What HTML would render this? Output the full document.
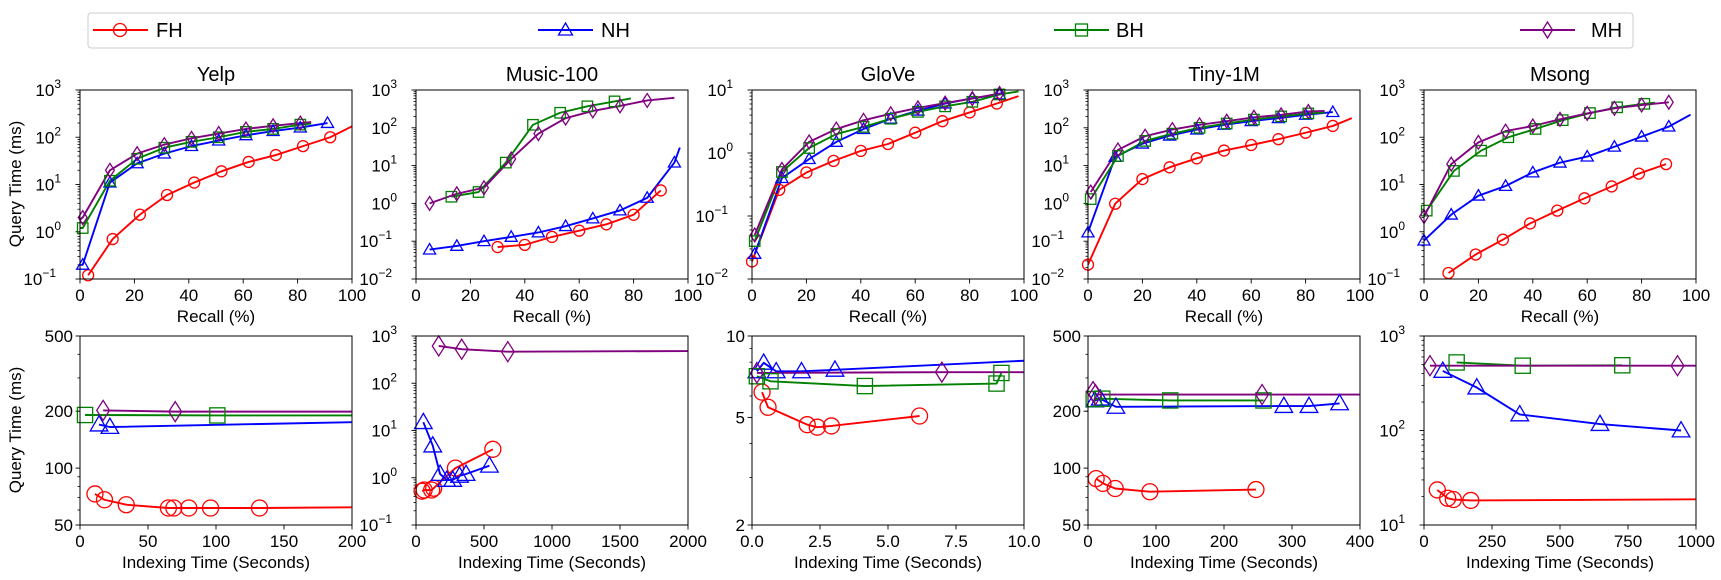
<!DOCTYPE html>
<html><head><meta charset="utf-8"><style>
html,body{margin:0;padding:0;background:#fff;}
svg{display:block;font-family:"Liberation Sans","DejaVu Sans",sans-serif;}
</style></head><body>
<svg id="fig" width="1721" height="580" viewBox="0 0 1721 580" xmlns="http://www.w3.org/2000/svg">
<g>
<rect x="88" y="13" width="1545" height="35" rx="3" fill="#fff" stroke="#ccc" stroke-width="1"/>
<g><line x1="93" y1="30" x2="148" y2="30" stroke="#ff0000" stroke-width="2"/><circle cx="120" cy="30" r="6.5" fill="none" stroke="#ff0000" stroke-width="1.3"/><text x="156" y="37" font-size="20">FH</text></g>
<g><line x1="538" y1="30" x2="593" y2="30" stroke="#0000ff" stroke-width="2"/><polygon points="565.5,23 572.5,35 558.5,35" fill="none" stroke="#0000ff" stroke-width="1.3"/><text x="601" y="37" font-size="20">NH</text></g>
<g><line x1="1054" y1="30" x2="1109" y2="30" stroke="#008000" stroke-width="2"/><rect x="1075.5" y="24" width="12" height="12" fill="none" stroke="#008000" stroke-width="1.3"/><text x="1116" y="37" font-size="20">BH</text></g>
<g><line x1="1520" y1="30" x2="1575" y2="30" stroke="#800080" stroke-width="2"/><polygon points="1547.5,22 1552.5,30 1547.5,38 1542.5,30" fill="none" stroke="#800080" stroke-width="1.3"/><text x="1591" y="37" font-size="20">MH</text></g>
</g>
</svg>
<script>
// ---------- data: top row (Recall % vs Query Time ms) ----------
const recallTicks = [0,20,40,60,80,100];
// Yelp
const yelpFH_x = [3,12,22,32,42,52,62,72,82,92];
const yelpFH_y = [0.12,0.7,2.3,6,11,19,30,42,65,100];
const yelpNH_x = [1,11,21,31,41,51,61,71,81,91];
const yelpNH_y = [0.2,11,28,45,65,85,110,135,160,200];
const yelpBH_x = [1,11,21,31,41,51,61,71,81];
const yelpBH_y = [1.2,12,35,60,80,100,130,150,185];
const yelpMH_x = [1,11,21,31,41,51,61,71,81];
const yelpMH_y = [2,20,45,70,95,120,150,175,200];
// Music-100
const musicFH_x = [30,40,50,60,70,80,90];
const musicFH_y = [0.07,0.08,0.13,0.19,0.28,0.5,2.2];
const musicNH_x = [5,15,25,35,45,55,65,75,85,95];
const musicNH_y = [0.06,0.075,0.1,0.13,0.17,0.25,0.4,0.65,1.4,12];
const musicBH_x = [13,23,33,43,53,63,73];
const musicBH_y = [1.5,2,12,120,250,370,500];
const musicMH_x = [5,15,25,35,45,55,65,75,85];
const musicMH_y = [1,1.8,2.6,15,70,180,280,380,530];
// GloVe
const gloveFH_x = [0,10,20,30,40,50,60,70,80,90];
const gloveFH_y = [0.019,0.26,0.49,0.75,1.08,1.39,2.1,3.2,4.4,6.1];
const gloveNH_x = [1,11,21,31,41,51,61,71,81,91];
const gloveNH_y = [0.025,0.4,0.8,1.5,2.4,3.5,4.7,6.1,7.4,8.5];
const gloveBH_x = [1,11,21,31,41,51,61,71,81,91];
const gloveBH_y = [0.04,0.5,1.2,2,2.6,3.5,4.5,5.5,6.5,8.5];
const gloveMH_x = [1,11,21,31,41,51,61,71,81,91];
const gloveMH_y = [0.05,0.55,1.5,2.4,3.3,4.2,5.2,6.2,7.3,8.8];
// Tiny-1M
const tinyFH_x = [0,10,20,30,40,50,60,70,80,90];
const tinyFH_y = [0.024,0.98,4.4,9,15.6,25,35,50,74,112];
const tinyNH_x = [0,10,20,30,40,50,60,70,80,90];
const tinyNH_y = [0.17,17,38,62,90,120,150,180,220,260];
const tinyBH_x = [1,11,21,31,41,51,61,71,81];
const tinyBH_y = [1.3,18,45,70,100,130,165,200,240];
const tinyMH_x = [1,11,21,31,41,51,61,71,81];
const tinyMH_y = [2,26,60,90,120,150,190,220,270];
// Msong
const msongFH_x = [9,19,29,39,49,59,69,79,89];
const msongFH_y = [0.134,0.33,0.68,1.5,2.8,5.1,9.1,17,27];
const msongNH_x = [0,10,20,30,40,50,60,70,80,90];
const msongNH_y = [0.65,2.3,5.8,9.3,18,29,39,63,103,168];
const msongBH_x = [1,11,21,31,41,51,61,71,81];
const msongBH_y = [2.8,19.4,52,100,150,230,325,430,510];
const msongMH_x = [0,10,20,30,40,50,60,70,80,90];
const msongMH_y = [2.1,27,78,135,173,240,320,410,480,550];

// ---------- data: bottom row (Indexing Time s vs Query Time ms) ----------
const yelpIdxFH_x = [11,18,34,65,69,80,96,132];
const yelpIdxFH_y = [73,68,64,61.5,61.5,61.5,61.5,61.5];
const yelpIdxNH_x = [14,22];
const yelpIdxNH_y = [170,165];
const yelpIdxBH_x = [3.7,101];
const yelpIdxBH_y = [191,190];
const yelpIdxMH_x = [17,70];
const yelpIdxMH_y = [202,199];

const musicIdxFH_x = [45,60,115,130,290,565];
const musicIdxFH_y = [0.52,0.55,0.55,0.6,1.6,4];
const musicIdxNH_x = [54,123,177,226,270,320,368,540];
const musicIdxNH_y = [15,4.8,1.2,0.9,0.9,1.1,1.2,1.8];
const musicIdxMH_x = [167,336,675];
const musicIdxMH_y = [615,525,466];

const gloveIdxFH_x = [0.37,0.59,2.03,2.4,2.92,6.16];
const gloveIdxFH_y = [6.2,5.45,4.7,4.6,4.65,5.06];
const gloveIdxNH_x = [0.18,0.43,0.89,1.82,3.05];
const gloveIdxNH_y = [7.4,7.96,7.4,7.4,7.5];
const gloveIdxBH_x = [0.18,0.68,4.15,8.99,9.17];
const gloveIdxBH_y = [7.1,6.8,6.53,6.67,7.3];
const gloveIdxMH_x = [0.18,6.98];
const gloveIdxMH_y = [7.3,7.35];

const tinyIdxFH_x = [12,22,40,91,247];
const tinyIdxFH_y = [88,83,78,75,77];
const tinyIdxNH_x = [10,18,41,288,325,370];
const tinyIdxNH_y = [228,233,211,213,213,220];
const tinyIdxBH_x = [8.4,21,121,258];
const tinyIdxBH_y = [232,233,228,228];
const tinyIdxMH_x = [7.4,11,256];
const tinyIdxMH_y = [254,245,245];

const msongIdxFH_x = [49,87,108,172];
const msongIdxFH_y = [23.5,19.2,18.6,18.2];
const msongIdxNH_x = [69,194,352,647,945];
const msongIdxNH_y = [427,285,148,117,100];
const msongIdxBH_x = [120,363,729];
const msongIdxBH_y = [525,485,490];
const msongIdxMH_x = [22,932];
const msongIdxMH_y = [485,485];

const NS = "http://www.w3.org/2000/svg";
const svg = document.getElementById('fig');
const COL = {FH:'#ff0000', NH:'#0000ff', BH:'#008000', MH:'#800080'};
const MK = {FH:'circle', NH:'tri', BH:'square', MH:'diamond'};
function mk(tag, attrs, parent){ const e=document.createElementNS(NS,tag); for(const k in attrs) e.setAttribute(k,attrs[k]); (parent||svg).appendChild(e); return e; }

function marker(g, type, cx, cy, s, color){
  let e;
  if(type==='circle') e = mk('circle',{cx:cx,cy:cy,r:s,fill:'none',stroke:color,'stroke-width':1.3},g);
  else if(type==='tri') e = mk('polygon',{points:`${cx},${cy-s*1.1} ${cx+s*1.1},${cy+s*0.8} ${cx-s*1.1},${cy+s*0.8}`,fill:'none',stroke:color,'stroke-width':1.3},g);
  else if(type==='square') e = mk('rect',{x:cx-s*0.95,y:cy-s*0.95,width:s*1.9,height:s*1.9,fill:'none',stroke:color,'stroke-width':1.3},g);
  else e = mk('polygon',{points:`${cx},${cy-s*1.25} ${cx+s*0.8},${cy} ${cx},${cy+s*1.25} ${cx-s*0.8},${cy}`,fill:'none',stroke:color,'stroke-width':1.3},g);
  
  
}

let clipId=0;
function panel(p){
  const g = mk('g',{});
  
  
  const L=p.left,T=p.top,W=272,H=189;
  const sx = v => L + (v-p.xmin)/(p.xmax-p.xmin)*W;
  const ly0=Math.log10(p.ymin), ly1=Math.log10(p.ymax);
  const sy = v => T + H - (Math.log10(v)-ly0)/(ly1-ly0)*H;
  const cid='clip'+(clipId++);
  const cp = mk('clipPath',{id:cid},g); mk('rect',{x:L,y:T,width:W,height:H},cp);
  // title
  if(p.title){ const t=mk('text',{x:L+W/2,y:T-9,'font-size':20,'text-anchor':'middle'},g); t.textContent=p.title;
      }
  // minor ticks
  for(let d=Math.floor(ly0); d<ly1; d++){
    for(let m=2;m<10;m++){ const v=m*Math.pow(10,d); if(v<=p.ymin||v>=p.ymax) continue;
      mk('line',{x1:L-2.5,x2:L,y1:sy(v),y2:sy(v),stroke:'#000','stroke-width':0.8},g); }
  }
  // y ticks
  p.yticks.forEach((v,i)=>{
    const y=sy(v); mk('line',{x1:L-4.5,x2:L,y1:y,y2:y,stroke:'#000','stroke-width':0.9},g);
    const t=mk('text',{x:L-7,y:y+6,'font-size':17,'text-anchor':'end'},g);
     
    const lab=p.ylabels[i];
    if(typeof lab==='number'){ t.setAttribute('x',L-19); t.textContent='10';
      const s=mk('tspan',{dy:-8,'font-size':12},t); s.textContent=String(lab).replace('-','\u2212');
      if(lab<0) t.setAttribute('x',L-24);
    } else t.textContent=lab;
  });
  // x ticks
  p.xticks.forEach((v,i)=>{
    const x=sx(v); mk('line',{x1:x,x2:x,y1:T+H,y2:T+H+4.5,stroke:'#000','stroke-width':0.9},g);
    const t=mk('text',{x:x,y:T+H+22,'font-size':17,'text-anchor':'middle'},g); t.textContent=p.xlabels[i];
     
  });
  const xl=mk('text',{x:L+W/2,y:T+H+43,'font-size':17,'text-anchor':'middle'},g); xl.textContent=p.xtitle;
   
  // series
  const cg = mk('g',{'clip-path':`url(#${cid})`},g);
  p.series.forEach(s=>{
    const pts=[];
    if(s.pre) pts.push([sx(s.pre[0]),sy(s.pre[1])]);
    s.x.forEach((v,i)=>pts.push([sx(v),sy(s.y[i])]));
    if(s.post) pts.push([sx(s.post[0]),sy(s.post[1])]);
    const line=mk('polyline',{points:pts.map(q=>q.join(',')).join(' '),fill:'none',stroke:COL[s.k],'stroke-width':1.9,'stroke-linejoin':'round'},cg);
    
    
    s.x.forEach((v,i)=>marker(g, MK[s.k], sx(v), sy(s.y[i]), p.ms, COL[s.k]));
  });
  const fr=mk('rect',{x:L,y:T,width:W,height:H,fill:'none',stroke:'#000','stroke-width':1},g);
   
}

const lefts=[80,416,752,1088,1424];
const rl = recallTicks.map(String);
function S(k,x,y,pre,post){return {k,x,y,pre,post};}
// top row
panel({name:'yelp-recall-chart',title:'Yelp',left:lefts[0],top:90,xmin:0,xmax:100,ymin:0.1,ymax:1000,yticks:[0.1,1,10,100,1000],ylabels:[-1,0,1,2,3],xticks:recallTicks,xlabels:rl,xtitle:'Recall (%)',ms:5.5,
 series:[S('FH',yelpFH_x,yelpFH_y,null,[100,170]),S('NH',yelpNH_x,yelpNH_y,[0,0.2],null),S('BH',yelpBH_x,yelpBH_y,[0,1.2],[85,195]),S('MH',yelpMH_x,yelpMH_y,[0,1.8],[85,210])]});
panel({name:'music-recall-chart',title:'Music-100',left:lefts[1],top:90,xmin:0,xmax:100,ymin:0.01,ymax:1000,yticks:[0.01,0.1,1,10,100,1000],ylabels:[-2,-1,0,1,2,3],xticks:recallTicks,xlabels:rl,xtitle:'Recall (%)',ms:5.5,
 series:[S('FH',musicFH_x,musicFH_y,null,null),S('NH',musicNH_x,musicNH_y,null,[97,30]),S('BH',musicBH_x,musicBH_y,null,[79,600]),S('MH',musicMH_x,musicMH_y,null,[95,620])]});
panel({name:'glove-recall-chart',title:'GloVe',left:lefts[2],top:90,xmin:0,xmax:100,ymin:0.01,ymax:10,yticks:[0.01,0.1,1,10],ylabels:[-2,-1,0,1],xticks:recallTicks,xlabels:rl,xtitle:'Recall (%)',ms:5.5,
 series:[S('FH',gloveFH_x,gloveFH_y,null,[98,8]),S('NH',gloveNH_x,gloveNH_y,null,[93,9]),S('BH',gloveBH_x,gloveBH_y,null,[98,9.5]),S('MH',gloveMH_x,gloveMH_y,null,[93,9.3])]});
panel({name:'tiny-recall-chart',title:'Tiny-1M',left:lefts[3],top:90,xmin:0,xmax:100,ymin:0.01,ymax:1000,yticks:[0.01,0.1,1,10,100,1000],ylabels:[-2,-1,0,1,2,3],xticks:recallTicks,xlabels:rl,xtitle:'Recall (%)',ms:5.5,
 series:[S('FH',tinyFH_x,tinyFH_y,null,[97,180]),S('NH',tinyNH_x,tinyNH_y,null,null),S('BH',tinyBH_x,tinyBH_y,null,[87,255]),S('MH',tinyMH_x,tinyMH_y,null,[87,280])]});
panel({name:'msong-recall-chart',title:'Msong',left:lefts[4],top:90,xmin:0,xmax:100,ymin:0.1,ymax:1000,yticks:[0.1,1,10,100,1000],ylabels:[-1,0,1,2,3],xticks:recallTicks,xlabels:rl,xtitle:'Recall (%)',ms:5.5,
 series:[S('FH',msongFH_x,msongFH_y,null,null),S('NH',msongNH_x,msongNH_y,null,[98,300]),S('BH',msongBH_x,msongBH_y,null,[85,540]),S('MH',msongMH_x,msongMH_y,null,null)]});
// bottom row
const IT='Indexing Time (Seconds)';
panel({name:'yelp-indexing-chart',left:lefts[0],top:336,xmin:0,xmax:200,ymin:50,ymax:500,yticks:[50,100,200,500],ylabels:['50','100','200','500'],xticks:[0,50,100,150,200],xlabels:['0','50','100','150','200'],xtitle:IT,ms:8,
 series:[S('FH',yelpIdxFH_x,yelpIdxFH_y,null,[200,62]),S('NH',yelpIdxNH_x,yelpIdxNH_y,null,[200,175]),S('BH',yelpIdxBH_x,yelpIdxBH_y,null,[200,190]),S('MH',yelpIdxMH_x,yelpIdxMH_y,null,[200,199])]});
panel({name:'music-indexing-chart',left:lefts[1],top:336,xmin:0,xmax:2000,ymin:0.1,ymax:1000,yticks:[0.1,1,10,100,1000],ylabels:[-1,0,1,2,3],xticks:[0,500,1000,1500,2000],xlabels:['0','500','1000','1500','2000'],xtitle:IT,ms:8,
 series:[S('FH',musicIdxFH_x,musicIdxFH_y,null,null),S('NH',musicIdxNH_x,musicIdxNH_y,null,null),S('MH',musicIdxMH_x,musicIdxMH_y,null,[2000,480])]});
panel({name:'glove-indexing-chart',left:lefts[2],top:336,xmin:0,xmax:10,ymin:2,ymax:10,yticks:[2,5,10],ylabels:['2','5','10'],xticks:[0,2.5,5,7.5,10],xlabels:['0.0','2.5','5.0','7.5','10.0'],xtitle:IT,ms:8,
 series:[S('FH',gloveIdxFH_x,gloveIdxFH_y,null,null),S('NH',gloveIdxNH_x,gloveIdxNH_y,null,[10,8.1]),S('BH',gloveIdxBH_x,gloveIdxBH_y,null,null),S('MH',gloveIdxMH_x,gloveIdxMH_y,null,[10,7.35])]});
panel({name:'tiny-indexing-chart',left:lefts[3],top:336,xmin:0,xmax:400,ymin:50,ymax:500,yticks:[50,100,200,500],ylabels:['50','100','200','500'],xticks:[0,100,200,300,400],xlabels:['0','100','200','300','400'],xtitle:IT,ms:8,
 series:[S('FH',tinyIdxFH_x,tinyIdxFH_y,null,null),S('NH',tinyIdxNH_x,tinyIdxNH_y,null,null),S('BH',tinyIdxBH_x,tinyIdxBH_y,null,null),S('MH',tinyIdxMH_x,tinyIdxMH_y,null,[400,245])]});
panel({name:'msong-indexing-chart',left:lefts[4],top:336,xmin:0,xmax:1000,ymin:10,ymax:1000,yticks:[10,100,1000],ylabels:[1,2,3],xticks:[0,250,500,750,1000],xlabels:['0','250','500','750','1000'],xtitle:IT,ms:8,
 series:[S('FH',msongIdxFH_x,msongIdxFH_y,null,[1000,18.7]),S('NH',msongIdxNH_x,msongIdxNH_y,null,null),S('BH',msongIdxBH_x,msongIdxBH_y,null,null),S('MH',msongIdxMH_x,msongIdxMH_y,null,[1000,485])]});

// y-axis titles
[184,430].forEach(cy=>{
  const t=mk('text',{x:0,y:0,'font-size':17,'text-anchor':'middle',transform:`translate(21,${cy}) rotate(-90)`});
  t.textContent='Query Time (ms)';
  
  
});
</script>
</body></html>
